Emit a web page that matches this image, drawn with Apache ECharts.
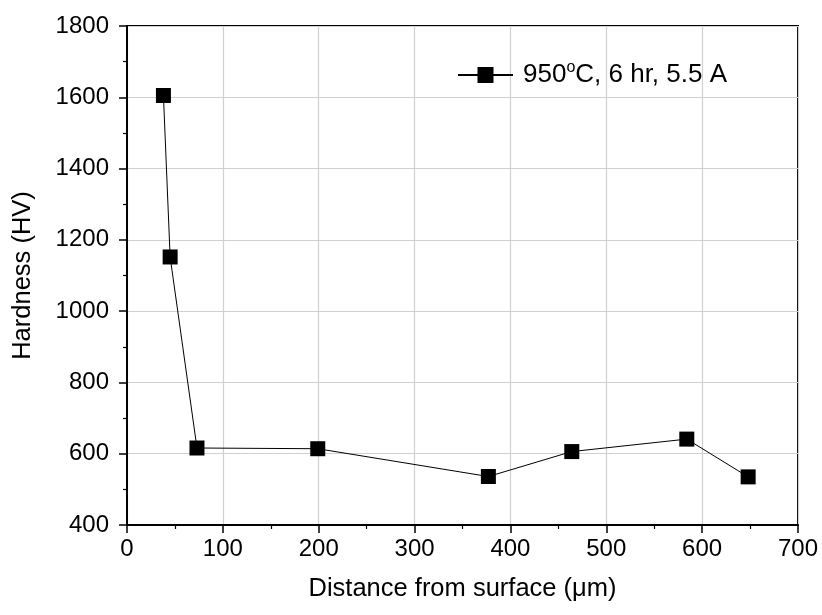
<!DOCTYPE html>
<html><head><meta charset="utf-8">
<script src="https://cdn.jsdelivr.net/npm/echarts@6/dist/echarts.min.js"></script>
<style>html,body{margin:0;padding:0;background:#fff}#c{width:822px;height:615px}</style>
</head><body><div id="c"></div>
<script>
const distance = [38, 45, 73, 199, 377, 464, 584, 648];
const hardness = [1605, 1152, 616, 614, 536, 606, 641, 535];
const seriesName = '950°C, 6 hr, 5.5 A';
const xTicks = [0, 100, 200, 300, 400, 500, 600, 700];
const yTicks = [400, 600, 800, 1000, 1200, 1400, 1600, 1800];

const chart = echarts.init(document.getElementById('c'));
const font = 'Liberation Sans, Arial, sans-serif';
chart.setOption({
  animation: false,
  backgroundColor: '#fff',
  grid: {left: 127, right: 24, top: 26, bottom: 90, show: true, borderColor: '#000', borderWidth: 2, backgroundColor: 'transparent'},
  legend: {
    left: 457, top: 60, padding: 0, itemWidth: 55, itemHeight: 20, itemGap: 6,
    data: [{name: seriesName, itemStyle: {color: '#000'}}],
    formatter: () => '950{sup|o}C, 6 hr, 5.5 A',
    textStyle: {fontFamily: font, fontSize: 26, color: '#000', padding: [0, 0, 0, 5],
      rich: {sup: {fontSize: 16, verticalAlign: 'top', padding: [0, 0, 14, 0], fontFamily: font, color: '#000'}}}
  },
  xAxis: {
    type: 'value', min: xTicks[0], max: xTicks[xTicks.length - 1], interval: 100,
    name: 'Distance from surface (μm)', nameLocation: 'middle', nameGap: 51,
    nameTextStyle: {fontFamily: font, fontSize: 25.5, color: '#000'},
    axisLine: {lineStyle: {color: '#000', width: 2}},
    axisTick: {inside: false, length: 8, lineStyle: {color: '#000', width: 1.5}},
    minorTick: {show: true, splitNumber: 2, length: 4, lineStyle: {color: '#000', width: 1.2}},
    axisLabel: {fontFamily: font, fontSize: 24, color: '#000', margin: 12},
    splitLine: {show: true, lineStyle: {color: '#d0d0d0', width: 1.2}}
  },
  yAxis: {
    type: 'value', min: yTicks[0], max: yTicks[yTicks.length - 1], interval: 200,
    name: 'Hardness (HV)', nameLocation: 'middle', nameGap: 91, nameRotate: 90,
    nameTextStyle: {fontFamily: font, fontSize: 25.5, color: '#000'},
    axisLine: {lineStyle: {color: '#000', width: 2}},
    axisTick: {inside: false, length: 8, lineStyle: {color: '#000', width: 1.5}},
    minorTick: {show: true, splitNumber: 2, length: 4, lineStyle: {color: '#000', width: 1.2}},
    axisLabel: {fontFamily: font, fontSize: 24, color: '#000', margin: 18, formatter: v => String(v)},
    splitLine: {show: true, lineStyle: {color: '#d0d0d0', width: 1.2}}
  },
  series: [{
    name: seriesName, type: 'line',
    data: distance.map((d, i) => [d, hardness[i]]),
    symbol: 'rect', symbolSize: 15,
    itemStyle: {color: '#000'},
    lineStyle: {color: '#000', width: 1}
  }]
});
</script></body></html>
